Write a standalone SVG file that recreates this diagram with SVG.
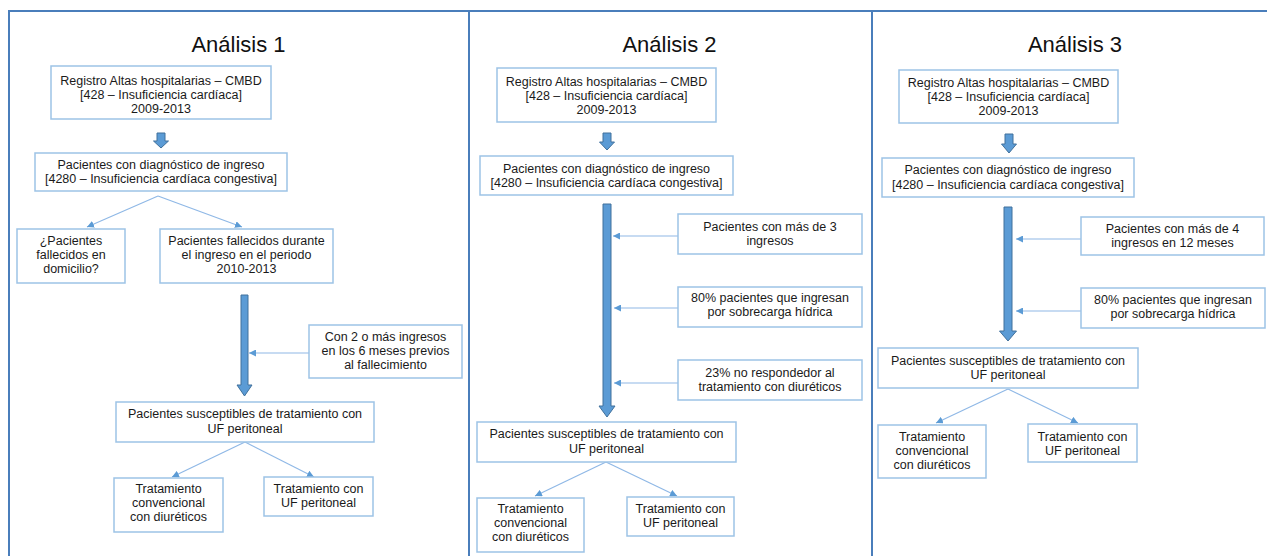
<svg xmlns="http://www.w3.org/2000/svg" width="1267" height="556" viewBox="0 0 1267 556">
<style>
.frame{fill:none;stroke:#4a7ebb;stroke-width:2}
.box{fill:#fff;stroke:#9dc3e6;stroke-width:1.5}
.t{font-family:"Liberation Sans",Arial,sans-serif;font-size:12.5px;fill:#1a1a1a;text-anchor:middle}
.title{font-family:"Liberation Sans",Arial,sans-serif;font-size:22px;fill:#111;text-anchor:middle}
.con{fill:none;stroke:#8fb8e6;stroke-width:1.2;marker-end:url(#ah)}
.blk{fill:#5b9bd5;stroke:#41719c;stroke-width:1}
</style>
<defs>
<marker id="ah" viewBox="0 0 10 10" refX="10" refY="5" markerWidth="7" markerHeight="7" markerUnits="userSpaceOnUse" orient="auto">
<path d="M0,0 L10,5 L0,10 z" fill="#5b9bd5"/>
</marker>
</defs>
<rect width="1267" height="556" fill="#fff"/>
<g id="frames">
<rect class="frame" x="9" y="11" width="460" height="560"/>
<rect class="frame" x="469" y="11" width="403" height="560"/>
<rect class="frame" x="872" y="11" width="400" height="560"/>
</g>
<g id="titles">
<text class="title" x="238.5" y="52">Análisis 1</text>
<text class="title" x="669.5" y="52">Análisis 2</text>
<text class="title" x="1075" y="52">Análisis 3</text>
</g>
<g id="connectors">
<path class="blk" d="M157,133 H165 V141 H168.5 L161,148 L153.5,141 H157 Z"/>
<path class="con" d="M158,196 L87,227"/>
<path class="con" d="M158,196 L242,227"/>
<path class="blk" d="M241,295 H248 V385 H252 L244.5,396 L237,385 H241 Z"/>
<path class="con" d="M309,353 L249,353"/>
<path class="con" d="M245,442 L172,477"/>
<path class="con" d="M245,442 L314,477"/>
<path class="blk" d="M603,133 H611 V142 H614.5 L607,150 L599.5,142 H603 Z"/>
<path class="blk" d="M603,204 H611 V406 H615 L607,417 L599,406 H603 Z"/>
<path class="con" d="M678,236 L613,236"/>
<path class="con" d="M678,308 L614,308"/>
<path class="con" d="M678,383 L614,383"/>
<path class="con" d="M606,462 L535,496"/>
<path class="con" d="M606,462 L677,496"/>
<path class="blk" d="M1005,134 H1013 V144 H1016.5 L1009,153 L1001.5,144 H1005 Z"/>
<path class="blk" d="M1004,207 H1012 V331 H1016.5 L1008,341 L999.5,331 H1004 Z"/>
<path class="con" d="M1081,239 L1016,239"/>
<path class="con" d="M1081,311 L1016,311"/>
<path class="con" d="M1008,389 L936,423"/>
<path class="con" d="M1008,389 L1078,423"/>
</g>
<g id="p1-registro"><rect class="box" x="51" y="66" width="220" height="53"/>
<text class="t" x="161" y="85">Registro Altas hospitalarias – CMBD</text>
<text class="t" x="161" y="99">[428 – Insuficiencia cardíaca]</text>
<text class="t" x="161" y="113">2009-2013</text></g>
<g id="p1-diag"><rect class="box" x="35" y="153" width="252" height="38"/>
<text class="t" x="161" y="168.5">Pacientes con diagnóstico de ingreso</text>
<text class="t" x="161" y="183">[4280 – Insuficiencia cardíaca congestiva]</text></g>
<g id="p1-domicilio"><rect class="box" x="17" y="229" width="108" height="54"/>
<text class="t" x="71" y="245">¿Pacientes</text>
<text class="t" x="71" y="259">fallecidos en</text>
<text class="t" x="71" y="273">domicilio?</text></g>
<g id="p1-fallecidos"><rect class="box" x="160" y="229" width="173" height="54"/>
<text class="t" x="246.5" y="245">Pacientes fallecidos durante</text>
<text class="t" x="246.5" y="259">el ingreso en el periodo</text>
<text class="t" x="246.5" y="273">2010-2013</text></g>
<g id="p1-con2"><rect class="box" x="309" y="325" width="153" height="53"/>
<text class="t" x="385.5" y="341">Con 2 o más ingresos</text>
<text class="t" x="385.5" y="355">en los 6 meses previos</text>
<text class="t" x="385.5" y="369">al fallecimiento</text></g>
<g id="p1-susceptibles"><rect class="box" x="116" y="402" width="258" height="40"/>
<text class="t" x="245" y="418">Pacientes susceptibles de tratamiento con</text>
<text class="t" x="245" y="433">UF peritoneal</text></g>
<g id="p1-conv"><rect class="box" x="114" y="478" width="109" height="54"/>
<text class="t" x="168.5" y="493">Tratamiento</text>
<text class="t" x="168.5" y="507">convencional</text>
<text class="t" x="168.5" y="521">con diuréticos</text></g>
<g id="p1-uf"><rect class="box" x="264" y="477" width="109" height="39"/>
<text class="t" x="318.5" y="493">Tratamiento con</text>
<text class="t" x="318.5" y="507">UF peritoneal</text></g>
<g id="p2-registro"><rect class="box" x="497" y="68" width="219" height="54"/>
<text class="t" x="606.5" y="86">Registro Altas hospitalarias – CMBD</text>
<text class="t" x="606.5" y="100">[428 – Insuficiencia cardíaca]</text>
<text class="t" x="606.5" y="114">2009-2013</text></g>
<g id="p2-diag"><rect class="box" x="480" y="156" width="253" height="39"/>
<text class="t" x="606.5" y="173">Pacientes con diagnóstico de ingreso</text>
<text class="t" x="606.5" y="187">[4280 – Insuficiencia cardíaca congestiva]</text></g>
<g id="p2-mas3"><rect class="box" x="678" y="214" width="184" height="40"/>
<text class="t" x="770" y="231">Pacientes con más de 3</text>
<text class="t" x="770" y="245">ingresos</text></g>
<g id="p2-80"><rect class="box" x="678" y="287" width="184" height="40"/>
<text class="t" x="770" y="302">80% pacientes que ingresan</text>
<text class="t" x="770" y="316">por sobrecarga hídrica</text></g>
<g id="p2-23"><rect class="box" x="678" y="360" width="184" height="40"/>
<text class="t" x="770" y="377">23% no respondedor al</text>
<text class="t" x="770" y="391">tratamiento con diuréticos</text></g>
<g id="p2-susceptibles"><rect class="box" x="477" y="422" width="259" height="40"/>
<text class="t" x="606.5" y="438">Pacientes susceptibles de tratamiento con</text>
<text class="t" x="606.5" y="453">UF peritoneal</text></g>
<g id="p2-conv"><rect class="box" x="477" y="498" width="107" height="54"/>
<text class="t" x="530.5" y="513">Tratamiento</text>
<text class="t" x="530.5" y="527">convencional</text>
<text class="t" x="530.5" y="541">con diuréticos</text></g>
<g id="p2-uf"><rect class="box" x="627" y="497" width="107" height="39"/>
<text class="t" x="680.5" y="513">Tratamiento con</text>
<text class="t" x="680.5" y="527">UF peritoneal</text></g>
<g id="p3-registro"><rect class="box" x="899" y="70" width="219" height="53"/>
<text class="t" x="1008.5" y="87">Registro Altas hospitalarias – CMBD</text>
<text class="t" x="1008.5" y="101">[428 – Insuficiencia cardíaca]</text>
<text class="t" x="1008.5" y="115">2009-2013</text></g>
<g id="p3-diag"><rect class="box" x="882" y="158" width="252" height="39"/>
<text class="t" x="1008" y="174">Pacientes con diagnóstico de ingreso</text>
<text class="t" x="1008" y="189">[4280 – Insuficiencia cardíaca congestiva]</text></g>
<g id="p3-mas4"><rect class="box" x="1081" y="217" width="183" height="38"/>
<text class="t" x="1172.5" y="233">Pacientes con más de 4</text>
<text class="t" x="1172.5" y="247">ingresos en 12 meses</text></g>
<g id="p3-80"><rect class="box" x="1081" y="288" width="184" height="40"/>
<text class="t" x="1173" y="304">80% pacientes que ingresan</text>
<text class="t" x="1173" y="318">por sobrecarga hídrica</text></g>
<g id="p3-susceptibles"><rect class="box" x="878" y="348" width="260" height="40"/>
<text class="t" x="1008" y="365">Pacientes susceptibles de tratamiento con</text>
<text class="t" x="1008" y="379">UF peritoneal</text></g>
<g id="p3-conv"><rect class="box" x="878" y="425" width="108" height="53"/>
<text class="t" x="932" y="441">Tratamiento</text>
<text class="t" x="932" y="455">convencional</text>
<text class="t" x="932" y="469">con diuréticos</text></g>
<g id="p3-uf"><rect class="box" x="1028" y="424" width="109" height="38"/>
<text class="t" x="1082.5" y="441">Tratamiento con</text>
<text class="t" x="1082.5" y="455">UF peritoneal</text></g>
</svg>
